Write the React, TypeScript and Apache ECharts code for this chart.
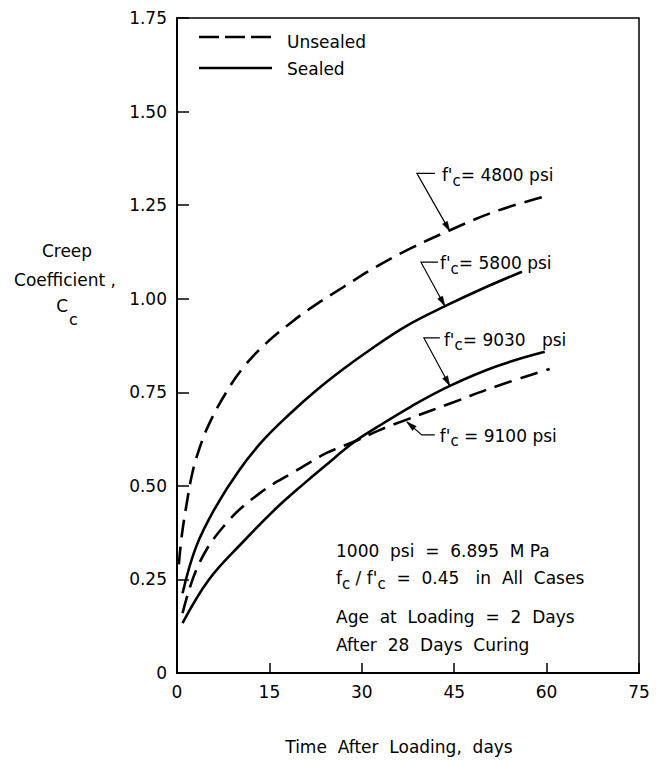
import React, { useEffect, useRef } from "react";
import * as echarts from "echarts";

// ---- data ----
const xTickValues = [0, 15, 30, 45, 60, 75];
const yTickValues = [0, 0.25, 0.5, 0.75, 1.0, 1.25, 1.5, 1.75];

// Unsealed, f'c = 4800 psi
const days4800 = [0.3, 0.8, 1.7, 2.5, 3.5, 5.2, 8, 10.7, 14.4, 18.8, 22.6, 26.9, 32.3, 38, 44.3, 52, 60.6];
const cc4800 = [0.29, 0.37, 0.465, 0.535, 0.593, 0.665, 0.75, 0.815, 0.88, 0.94, 0.985, 1.03, 1.085, 1.135, 1.183, 1.235, 1.277];

// Sealed, f'c = 5800 psi
const days5800 = [0.9, 3.1, 6.3, 10.1, 14, 18.3, 22.4, 27, 31.3, 37, 43.5, 50, 56];
const cc5800 = [0.213, 0.337, 0.444, 0.542, 0.622, 0.692, 0.752, 0.812, 0.863, 0.925, 0.98, 1.03, 1.072];

// Sealed, f'c = 9030 psi
const days9030 = [0.9, 5.2, 10.7, 16.1, 20.9, 24, 28.6, 32.6, 38, 44.3, 52, 59.7];
const cc9030 = [0.133, 0.25, 0.35, 0.44, 0.51, 0.553, 0.615, 0.658, 0.712, 0.767, 0.82, 0.858];

// Unsealed, f'c = 9100 psi
const days9100 = [0.9, 3.6, 8, 13.4, 19.3, 24.3, 28.6, 32.6, 37.3, 45, 52, 60.5];
const cc9100 = [0.16, 0.293, 0.4, 0.48, 0.54, 0.588, 0.617, 0.647, 0.677, 0.724, 0.767, 0.812];

// annotation labels and arrow tips (data coordinates)
const annotStrength = ["4800", "5800", "9030", "9100"];
const annotTipDay = [44.3, 43.5, 44.3, 37.3];
const annotTipCc = [1.18, 0.98, 0.767, 0.671];

const legendLabels = ["Unsealed", "Sealed"];
const noteLines = ["1000  psi  =  6.895  M Pa", "Age  at  Loading  =  2  Days", "After  28  Days  Curing"];

const FONT = "DejaVu Sans";

export default function App() {
  const ref = useRef<HTMLDivElement>(null);

  useEffect(() => {
    document.body.style.margin = "0";
    const chart = echarts.init(ref.current!, null, { renderer: "svg" });

    const lineSeries = (name: string, days: number[], vals: number[], dashed: boolean) => ({
      name,
      type: "line",
      data: days.map((d, i) => [d, vals[i]]),
      smooth: 0.4,
      showSymbol: false,
      symbol: "none",
      silent: true,
      lineStyle: { color: "#000", width: 2.6, type: dashed ? [18, 9] : "solid", cap: "butt" },
    });

    chart.setOption({
      animation: false,
      backgroundColor: "#fff",
      grid: {
        left: 177,
        right: 19,
        top: 18,
        bottom: 87,
        show: true,
        borderColor: "#000",
        borderWidth: 1.5,
        backgroundColor: "transparent",
      },
      xAxis: {
        type: "value",
        min: xTickValues[0],
        max: xTickValues[xTickValues.length - 1],
        interval: 15,
        axisLine: { lineStyle: { color: "#000", width: 2 } },
        axisTick: { inside: true, length: 10, lineStyle: { color: "#000", width: 1.5 } },
        axisLabel: { color: "#000", fontSize: 17, fontFamily: FONT, margin: 10 },
        splitLine: { show: false },
      },
      yAxis: {
        type: "value",
        min: yTickValues[0],
        max: yTickValues[yTickValues.length - 1],
        interval: 0.25,
        axisLine: { show: true, lineStyle: { color: "#000", width: 2 } },
        axisTick: { show: true, inside: true, length: 12, lineStyle: { color: "#000", width: 1.5 } },
        axisLabel: {
          color: "#000",
          fontSize: 17,
          fontFamily: FONT,
          margin: 10,
          formatter: (v: number) => (v === 0 ? "0" : v.toFixed(2)),
        },
        splitLine: { show: false },
      },
      series: [
        lineSeries("4800 unsealed", days4800, cc4800, true),
        lineSeries("5800 sealed", days5800, cc5800, false),
        lineSeries("9030 sealed", days9030, cc9030, false),
        lineSeries("9100 unsealed", days9100, cc9100, true),
      ],
    });

    const px = (d: number[]) => chart.convertToPixel({ gridIndex: 0 }, d) as number[];

    const txt = (x: number, y: number, text: string, extra: any = {}) => ({
      type: "text",
      x,
      y,
      silent: true,
      style: {
        text,
        fill: "#000",
        fontSize: 17,
        fontFamily: FONT,
        align: "left",
        verticalAlign: "middle",
        ...extra,
      },
    });

    const rich = {
      a: { fontSize: 17, fontFamily: FONT, fill: "#000", lineHeight: 26 },
      s: { fontSize: 15, fontFamily: FONT, fill: "#000", lineHeight: 12, verticalAlign: "bottom" },
    };

    const elements: any[] = [];

    // legend
    elements.push({
      type: "line",
      silent: true,
      shape: { x1: 199, y1: 37, x2: 272, y2: 37 },
      style: { stroke: "#000", lineWidth: 2.6, lineDash: [20, 6] },
    });
    elements.push(txt(287, 42, legendLabels[0]));
    elements.push({
      type: "line",
      silent: true,
      shape: { x1: 199, y1: 68, x2: 272, y2: 68 },
      style: { stroke: "#000", lineWidth: 2.6 },
    });
    elements.push(txt(287, 69, legendLabels[1]));

    // annotations with leaders
    const kneeOff = [
      [-33, -58],
      [-24, -44],
      [-26, -48],
      [15, 13],
    ];
    const hLen = [18, 17, 16, 13];
    const textOff = [
      [25, 2],
      [19, 1],
      [20, 2],
      [18, 1],
    ];
    annotStrength.forEach((s, i) => {
      const tip = px([annotTipDay[i], annotTipCc[i]]);
      const knee = [tip[0] + kneeOff[i][0], tip[1] + kneeOff[i][1]];
      const hend = [knee[0] + hLen[i], knee[1]];
      elements.push({
        type: "polyline",
        silent: true,
        shape: { points: [hend, knee, tip] },
        style: { stroke: "#000", lineWidth: 1.2, fill: null },
      });
      const dx = tip[0] - knee[0];
      const dy = tip[1] - knee[1];
      const L = Math.hypot(dx, dy);
      const ux = dx / L;
      const uy = dy / L;
      const hl = 10;
      const hw = 2.8;
      elements.push({
        type: "polygon",
        silent: true,
        shape: {
          points: [
            tip,
            [tip[0] - ux * hl - uy * hw, tip[1] - uy * hl + ux * hw],
            [tip[0] - ux * hl + uy * hw, tip[1] - uy * hl - ux * hw],
          ],
        },
        style: { fill: "#000", stroke: "#000", lineWidth: 0.5 },
      });
      const gap = i === 2 ? "   " : " ";
      elements.push({
        type: "text",
        x: knee[0] + textOff[i][0],
        y: knee[1] + textOff[i][1],
        silent: true,
        style: {
          text: `{a|f'}{s|c}{a|${i === 3 ? " " : ""}= ${s}${gap}psi}`,
          rich,
          fill: "#000",
          fontSize: 17,
          fontFamily: FONT,
          align: "left",
          verticalAlign: "middle",
        },
      });
    });

    // note block
    elements.push(txt(336, 551, noteLines[0]));
    elements.push({
      type: "text",
      x: 336,
      y: 578,
      silent: true,
      style: {
        text: "{a|f}{s|c}{a| / f'}{s|c}{a|  =  0.45   in  All  Cases}",
        rich,
        fill: "#000",
        fontSize: 17,
        fontFamily: FONT,
        align: "left",
        verticalAlign: "middle",
      },
    });
    elements.push(txt(336, 617, noteLines[1]));
    elements.push(txt(336, 645, noteLines[2]));

    // axis titles
    elements.push(txt(67, 251, "Creep", { align: "center" }));
    elements.push(txt(65, 280, "Coefficient ,", { align: "center" }));
    elements.push(txt(68, 306, "C", { align: "right" }));
    elements.push(txt(69, 319, "c", { align: "left", fontSize: 16 }));
    elements.push(txt(399, 747, "Time  After  Loading,  days", { align: "center" }));

    chart.setOption({ graphic: elements });

    return () => chart.dispose();
  }, []);

  return <div ref={ref} style={{ width: 658, height: 760 }} />;
}
